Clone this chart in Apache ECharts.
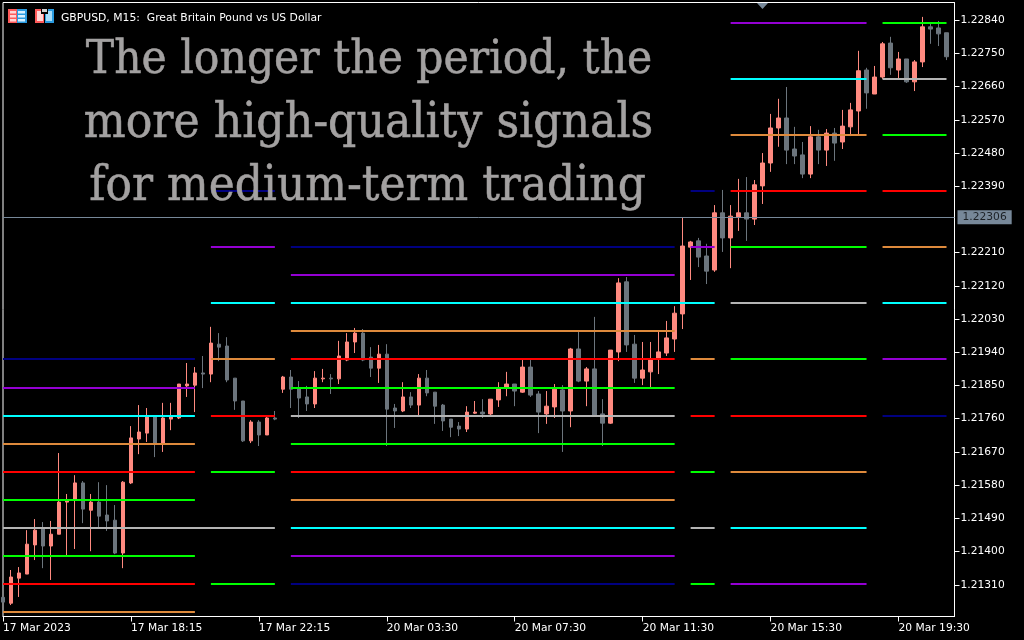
<!DOCTYPE html>
<html><head><meta charset="utf-8">
<style>html,body{margin:0;padding:0;background:#000}#c{width:1024px;height:640px}</style>
<script src="https://cdn.jsdelivr.net/npm/echarts@6/dist/echarts.min.js"></script>
</head><body><div id="c"></div>
<script>
const headerText = 'GBPUSD, M15:  Great Britain Pound vs US Dollar';
const headlineLines = ['The longer the period, the','more high-quality signals','for medium-term trading'];
const timeLabels = ['17 Mar 2023','17 Mar 18:15','17 Mar 22:15','20 Mar 03:30','20 Mar 07:30','20 Mar 11:30','20 Mar 15:30','20 Mar 19:30'];
const priceTicks = [1.21310,1.21400,1.21490,1.21580,1.21670,1.21760,1.21850,1.21940,1.22030,1.22120,1.22210,1.22390,1.22480,1.22570,1.22660,1.22750,1.22840];
const currentPrice = 1.22306;
// open, close, low, high
const candles = [
[1.21276,1.21263,1.21263,1.21276],[1.21260,1.21331,1.21255,1.21350],[1.21328,1.21342,1.21277,1.21358],[1.21339,1.21420,1.21339,1.21458],
[1.21418,1.21458,1.21377,1.21488],[1.21464,1.21415,1.21355,1.21480],[1.21415,1.21447,1.21323,1.21483],[1.21447,1.21534,1.21447,1.21667],
[1.21534,1.21537,1.21390,1.21556],[1.21540,1.21586,1.21407,1.21607],[1.21586,1.21515,1.21477,1.21591],[1.21512,1.21534,1.21401,1.21556],
[1.21534,1.21496,1.21464,1.21588],[1.21499,1.21483,1.21456,1.21580],[1.21485,1.21396,1.21393,1.21526],[1.21396,1.21588,1.21355,1.21591],
[1.21586,1.21708,1.21583,1.21740],[1.21705,1.21724,1.21664,1.21797],[1.21721,1.21767,1.21697,1.21789],[1.21767,1.21694,1.21656,1.21770],
[1.21694,1.21762,1.21670,1.21803],[1.21759,1.21765,1.21729,1.21803],[1.21762,1.21854,1.21759,1.21854],[1.21849,1.21854,1.21819,1.21911],
[1.21851,1.21884,1.21778,1.21900],[1.21884,1.21881,1.21843,1.21930],[1.21881,1.21965,1.21859,1.22009],[1.21962,1.21954,1.21916,1.21992],
[1.21957,1.21865,1.21859,1.21981],[1.21870,1.21808,1.21784,1.21870],[1.21808,1.21700,1.21697,1.21808],[1.21700,1.21751,1.21694,1.21756],
[1.21751,1.21716,1.21686,1.21756],[1.21716,1.21762,1.21716,1.21765],[1.21762,1.21759,1.21756,1.21781],[1.21840,1.21873,1.21830,1.21876],
[1.21873,1.21840,1.21789,1.21892],[1.21843,1.21816,1.21762,1.21862],[1.21819,1.21800,1.21781,1.21849],[1.21800,1.21870,1.21789,1.21889],
[1.21868,1.21870,1.21859,1.21895],[1.21870,1.21868,1.21827,1.21881],[1.21868,1.21930,1.21854,1.21971],[1.21919,1.21968,1.21916,1.21992],
[1.21968,1.21992,1.21938,1.22006],[1.21992,1.21919,1.21916,1.22003],[1.21927,1.21897,1.21873,1.21954],[1.21897,1.21935,1.21857,1.21960],
[1.21935,1.21786,1.21686,1.21962],[1.21789,1.21781,1.21735,1.21800],[1.21781,1.21819,1.21778,1.21859],[1.21819,1.21797,1.21789,1.21832],
[1.21797,1.21870,1.21767,1.21881],[1.21870,1.21830,1.21821,1.21892],[1.21832,1.21794,1.21746,1.21832],[1.21797,1.21754,1.21727,1.21800],
[1.21759,1.21737,1.21710,1.21759],[1.21740,1.21732,1.21713,1.21751],[1.21732,1.21778,1.21724,1.21794],[1.21775,1.21778,1.21773,1.21808],
[1.21778,1.21773,1.21762,1.21813],[1.21773,1.21813,1.21767,1.21813],[1.21811,1.21843,1.21792,1.21859],[1.21843,1.21854,1.21821,1.21887],
[1.21854,1.21835,1.21794,1.21854],[1.21832,1.21900,1.21830,1.21919],[1.21900,1.21824,1.21819,1.21919],[1.21827,1.21778,1.21721,1.21835],
[1.21773,1.21794,1.21746,1.21835],[1.21792,1.21840,1.21762,1.21854],[1.21838,1.21781,1.21670,1.21851],[1.21781,1.21949,1.21737,1.21952],
[1.21949,1.21862,1.21859,1.21995],[1.21862,1.21895,1.21794,1.21900],[1.21895,1.21767,1.21767,1.22036],[1.21773,1.21748,1.21686,1.21813],
[1.21748,1.21946,1.21746,1.21946],[1.21941,1.22128,1.21916,1.22141],[1.22131,1.21960,1.21941,1.22144],[1.21962,1.21870,1.21857,1.21987],
[1.21870,1.21892,1.21851,1.21968],[1.21887,1.21919,1.21846,1.21968],[1.21924,1.21941,1.21881,1.21995],[1.21938,1.21979,1.21930,1.22025],
[1.21976,1.22046,1.21941,1.22065],[1.22044,1.22228,1.22003,1.22304],[1.22225,1.22239,1.22136,1.22242],[1.22242,1.22198,1.22171,1.22250],
[1.22201,1.22160,1.22125,1.22234],[1.22163,1.22318,1.22158,1.22339],[1.22318,1.22250,1.22212,1.22380],[1.22250,1.22309,1.22168,1.22339],
[1.22307,1.22318,1.22269,1.22410],[1.22318,1.22301,1.22242,1.22415],[1.22301,1.22394,1.22285,1.22407],[1.22391,1.22453,1.22342,1.22480],
[1.22453,1.22548,1.22429,1.22586],[1.22548,1.22575,1.22497,1.22627],[1.22575,1.22488,1.22450,1.22659],[1.22491,1.22472,1.22450,1.22551],
[1.22475,1.22423,1.22412,1.22510],[1.22423,1.22524,1.22412,1.22553],[1.22524,1.22488,1.22450,1.22543],[1.22488,1.22534,1.22445,1.22545],
[1.22534,1.22507,1.22459,1.22548],[1.22510,1.22553,1.22491,1.22597],[1.22551,1.22597,1.22526,1.22616],[1.22594,1.22703,1.22529,1.22757],
[1.22705,1.22643,1.22600,1.22711],[1.22640,1.22686,1.22640,1.22716],[1.22686,1.22776,1.22681,1.22781],[1.22778,1.22711,1.22692,1.22795],
[1.22705,1.22735,1.22681,1.22754],[1.22735,1.22673,1.22670,1.22735],[1.22673,1.22727,1.22648,1.22732],[1.22727,1.22822,1.22713,1.22849],
[1.22822,1.22816,1.22776,1.22833],[1.22819,1.22803,1.22770,1.22838],[1.22806,1.22741,1.22732,1.22806]
];
// level segments: first bar, last bar, price
const navyLevels = [[0,24,1.219219],[26,34,1.223772],[36,84,1.222254],[36,84,1.213121],[86,89,1.223772],[110,118,1.217674]];
const purpleLevels = [[0,24,1.218433],[26,34,1.222254],[36,84,1.221495],[36,84,1.213880],[86,89,1.222254],[91,108,1.228324],[91,108,1.213121],[110,118,1.219219]];
const cyanLevels = [[0,24,1.217674],[26,34,1.220736],[36,89,1.220736],[36,84,1.214638],[91,108,1.226807],[91,108,1.214638],[110,118,1.220736]];
const orangeLevels = [[0,24,1.216915],[0,24,1.212362],[26,34,1.219219],[36,84,1.219977],[36,84,1.215397],[86,89,1.219219],[91,108,1.225289],[91,108,1.216156],[110,118,1.222254]];
const redLevels = [[0,24,1.216156],[0,24,1.213121],[26,34,1.217674],[36,84,1.219219],[36,84,1.216156],[86,89,1.217674],[91,108,1.223772],[91,108,1.217674],[110,118,1.223772]];
const greenLevels = [[0,24,1.215397],[0,24,1.213880],[26,34,1.216156],[26,34,1.213121],[36,84,1.218433],[36,84,1.216915],[86,89,1.216156],[86,89,1.213121],[91,108,1.222254],[91,108,1.219219],[110,118,1.228324],[110,118,1.225289]];
const silverLevels = [[0,34,1.214638],[36,84,1.217674],[86,89,1.214638],[91,108,1.220736],[110,118,1.226807]];

const BAR_SLOTS = 120;
const categories = Array.from({length:BAR_SLOTS},(_, i)=> i%16===0 ? (timeLabels[i/16]||'') : '');
const levelSeries = (name,rows,color)=>({
  name,type:'line',silent:true,symbol:'none',z:5,animation:false,
  lineStyle:{color,width:2,cap:'butt'},
  data:rows.flatMap(r=>[[r[0],r[2]],[r[1],r[2]],[r[1],null]])
});
const FONT = '"DejaVu Sans"';
const headlineTitle = (text,top,left,size)=>({text,top,left,textAlign:'center',z:20,
  textStyle:{color:'#a3a1a1',fontFamily:'"DejaVu Serif Condensed"',fontSize:size,fontWeight:'normal',lineHeight:60,textBorderColor:'#a3a1a1',textBorderWidth:0.5}});
const chart = echarts.init(document.getElementById('c'),null,{renderer:'canvas'});
chart.setOption({
  animation:false,backgroundColor:'#000',
  title:[
    {text:headerText,left:56,top:7.5,textStyle:{color:'#fff',fontFamily:FONT,fontSize:10.8,fontWeight:'normal'}},
    headlineTitle(headlineLines[0],26,364,47.3),
    headlineTitle(headlineLines[1],89,363.5,49.2),
    headlineTitle(headlineLines[2],152,362.5,48.9)
  ],
  grid:{left:2.5,top:2.5,width:952,height:614,show:true,backgroundColor:'#000',borderColor:'#fff',borderWidth:1},
  xAxis:{type:'category',data:categories,boundaryGap:false,
    axisLine:{lineStyle:{color:'#fff',width:1}},
    axisTick:{show:true,interval:15,length:5,lineStyle:{color:'#fff'}},
    axisLabel:{interval:15,align:'left',color:'#fff',fontFamily:FONT,fontSize:10.7,margin:6},
    splitLine:{show:false}},
  yAxis:{type:'value',position:'right',min:1.21224,max:1.22888,scale:true,
    axisLine:{show:true,lineStyle:{color:'#fff',width:1}},
    axisTick:{show:true,length:5,customValues:priceTicks,lineStyle:{color:'#fff'}},
    axisLabel:{color:'#fff',fontFamily:FONT,fontSize:10.7,margin:6,customValues:priceTicks,formatter:v=>v.toFixed(5)},
    splitLine:{show:false}},
  series:[
    {name:'GBPUSD',type:'candlestick',barWidth:4,z:3,clip:true,silent:true,data:candles,
     itemStyle:{color:'#ff8a80',color0:'#6c757d',borderColor:'#ff8a80',borderColor0:'#6c757d',borderWidth:1},
     markLine:{silent:true,symbol:'none',animation:false,z:6,precision:5,
       lineStyle:{color:'#778899',width:1,type:'solid'},
       label:{show:true,position:'end',distance:3,formatter:p=>p.value.toFixed(5),color:'#1c2126',backgroundColor:'#778899',fontFamily:FONT,fontSize:10.7,padding:[2,5,1,5]},
       data:[{yAxis:currentPrice}]}},
    levelSeries('Navy level',navyLevels,'#000080'),
    levelSeries('Purple level',purpleLevels,'#9400d3'),
    levelSeries('Cyan level',cyanLevels,'#00ffff'),
    levelSeries('Orange level',orangeLevels,'#de8a3c'),
    levelSeries('Red level',redLevels,'#ff0000'),
    levelSeries('Green level',greenLevels,'#00ff00'),
    levelSeries('Silver level',silverLevels,'#b4b4b4')
  ],
  graphic:[
    {type:'polygon',silent:true,z:30,shape:{points:[[757,3],[768,3],[762.5,9]]},style:{fill:'#778899'}},
    {type:'rect',z:30,shape:{x:8,y:9,width:9,height:14},style:{fill:'#ff5a5a'}},
    {type:'rect',z:30,shape:{x:17,y:9,width:10,height:14},style:{fill:'#2a9be0'}},
    {type:'rect',z:31,shape:{x:10,y:11,width:6,height:2.5},style:{fill:'#ffd6d6'}},
    {type:'rect',z:31,shape:{x:10,y:15,width:6,height:2.5},style:{fill:'#ffd6d6'}},
    {type:'rect',z:31,shape:{x:10,y:19,width:6,height:2.5},style:{fill:'#ffd6d6'}},
    {type:'rect',z:31,shape:{x:18,y:11,width:7,height:2.5},style:{fill:'#d8f0ff'}},
    {type:'rect',z:31,shape:{x:18,y:15,width:7,height:2.5},style:{fill:'#d8f0ff'}},
    {type:'rect',z:31,shape:{x:18,y:19,width:7,height:2.5},style:{fill:'#d8f0ff'}},
    {type:'rect',z:30,shape:{x:35,y:9,width:9,height:14},style:{fill:'#ff5a5a'}},
    {type:'rect',z:30,shape:{x:45,y:9,width:9,height:14},style:{fill:'#2a9be0'}},
    {type:'rect',z:31,shape:{x:37,y:11,width:6,height:10},style:{fill:'#ffd6d6'}},
    {type:'rect',z:31,shape:{x:46,y:11,width:6,height:10},style:{fill:'#a8dcf8'}},
    {type:'rect',z:32,shape:{x:41,y:9,width:7,height:5},style:{fill:'#000'}},
    {type:'rect',z:33,shape:{x:42,y:9,width:5,height:3},style:{fill:'#d0d0d0'}}
  ]
});
</script></body></html>
